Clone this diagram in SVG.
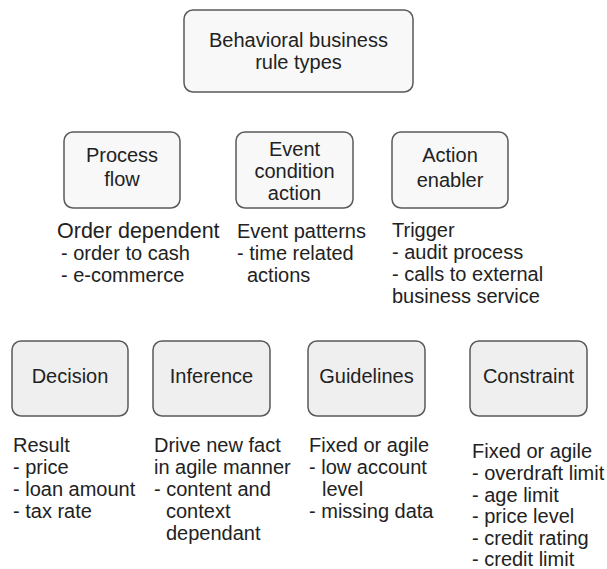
<svg xmlns="http://www.w3.org/2000/svg" width="607" height="569" viewBox="0 0 607 569">
<style>
  text { font-family: "Liberation Sans", Arial, sans-serif; font-size: 20px; fill: #222; }
  .c { text-anchor: middle; }
  .big { font-size: 21.5px; }
  .box { stroke: #5a5a5a; stroke-width: 1.5; }
  .l1 { fill: #f8f8f8; }
  .l2 { fill: #efefef; }
</style>
<rect width="607" height="569" fill="#ffffff"/>
<g id="connectors"></g>
<g id="root">
  <rect class="box l1" x="184" y="10" width="229" height="82" rx="9"/>
  <text class="c" x="298.5" y="47">Behavioral business</text>
  <text class="c" x="298.5" y="69">rule types</text>
</g>
<g id="process-flow">
  <rect class="box l1" x="64" y="132" width="116" height="76" rx="9"/>
  <text class="c" x="122" y="162">Process</text>
  <text class="c" x="122" y="186">flow</text>
  <text class="big" x="57" y="238">Order dependent</text>
  <text x="61" y="260">- order to cash</text>
  <text x="61" y="282">- e-commerce</text>
</g>
<g id="event-condition-action">
  <rect class="box l1" x="236" y="132" width="117" height="76" rx="9"/>
  <text class="c" x="294.5" y="156">Event</text>
  <text class="c" x="294.5" y="178">condition</text>
  <text class="c" x="294.5" y="200">action</text>
  <text x="237" y="238">Event patterns</text>
  <text x="237" y="260">- time related</text>
  <text x="247" y="282">actions</text>
</g>
<g id="action-enabler">
  <rect class="box l1" x="392" y="132" width="116" height="76" rx="9"/>
  <text class="c" x="450" y="162">Action</text>
  <text class="c" x="450" y="187">enabler</text>
  <text x="392" y="237">Trigger</text>
  <text x="392" y="259">- audit process</text>
  <text x="392" y="281">- calls to external</text>
  <text x="392" y="303">business service</text>
</g>
<g id="decision">
  <rect class="box l2" x="12" y="341" width="116" height="75" rx="9"/>
  <text class="c" x="70" y="383">Decision</text>
  <text x="13" y="452">Result</text>
  <text x="13" y="474">- price</text>
  <text x="13" y="496">- loan amount</text>
  <text x="13" y="518">- tax rate</text>
</g>
<g id="inference">
  <rect class="box l2" x="153" y="341" width="117" height="75" rx="9"/>
  <text class="c" x="211.5" y="383">Inference</text>
  <text x="154" y="452">Drive new fact</text>
  <text x="154" y="474">in agile manner</text>
  <text x="154" y="496">- content and</text>
  <text x="166" y="518">context</text>
  <text x="166" y="540">dependant</text>
</g>
<g id="guidelines">
  <rect class="box l2" x="308" y="341" width="117" height="75" rx="9"/>
  <text class="c" x="366.5" y="383">Guidelines</text>
  <text x="309" y="452">Fixed or agile</text>
  <text x="309" y="474">- low account</text>
  <text x="322" y="496">level</text>
  <text x="309" y="518">- missing data</text>
</g>
<g id="constraint">
  <rect class="box l2" x="470" y="341" width="117" height="75" rx="9"/>
  <text class="c" x="528.5" y="383">Constraint</text>
  <text x="472" y="458">Fixed or agile</text>
  <text x="472" y="480">- overdraft limit</text>
  <text x="472" y="502">- age limit</text>
  <text x="472" y="523">- price level</text>
  <text x="472" y="545">- credit rating</text>
  <text x="472" y="566">- credit limit</text>
</g>
</svg>
